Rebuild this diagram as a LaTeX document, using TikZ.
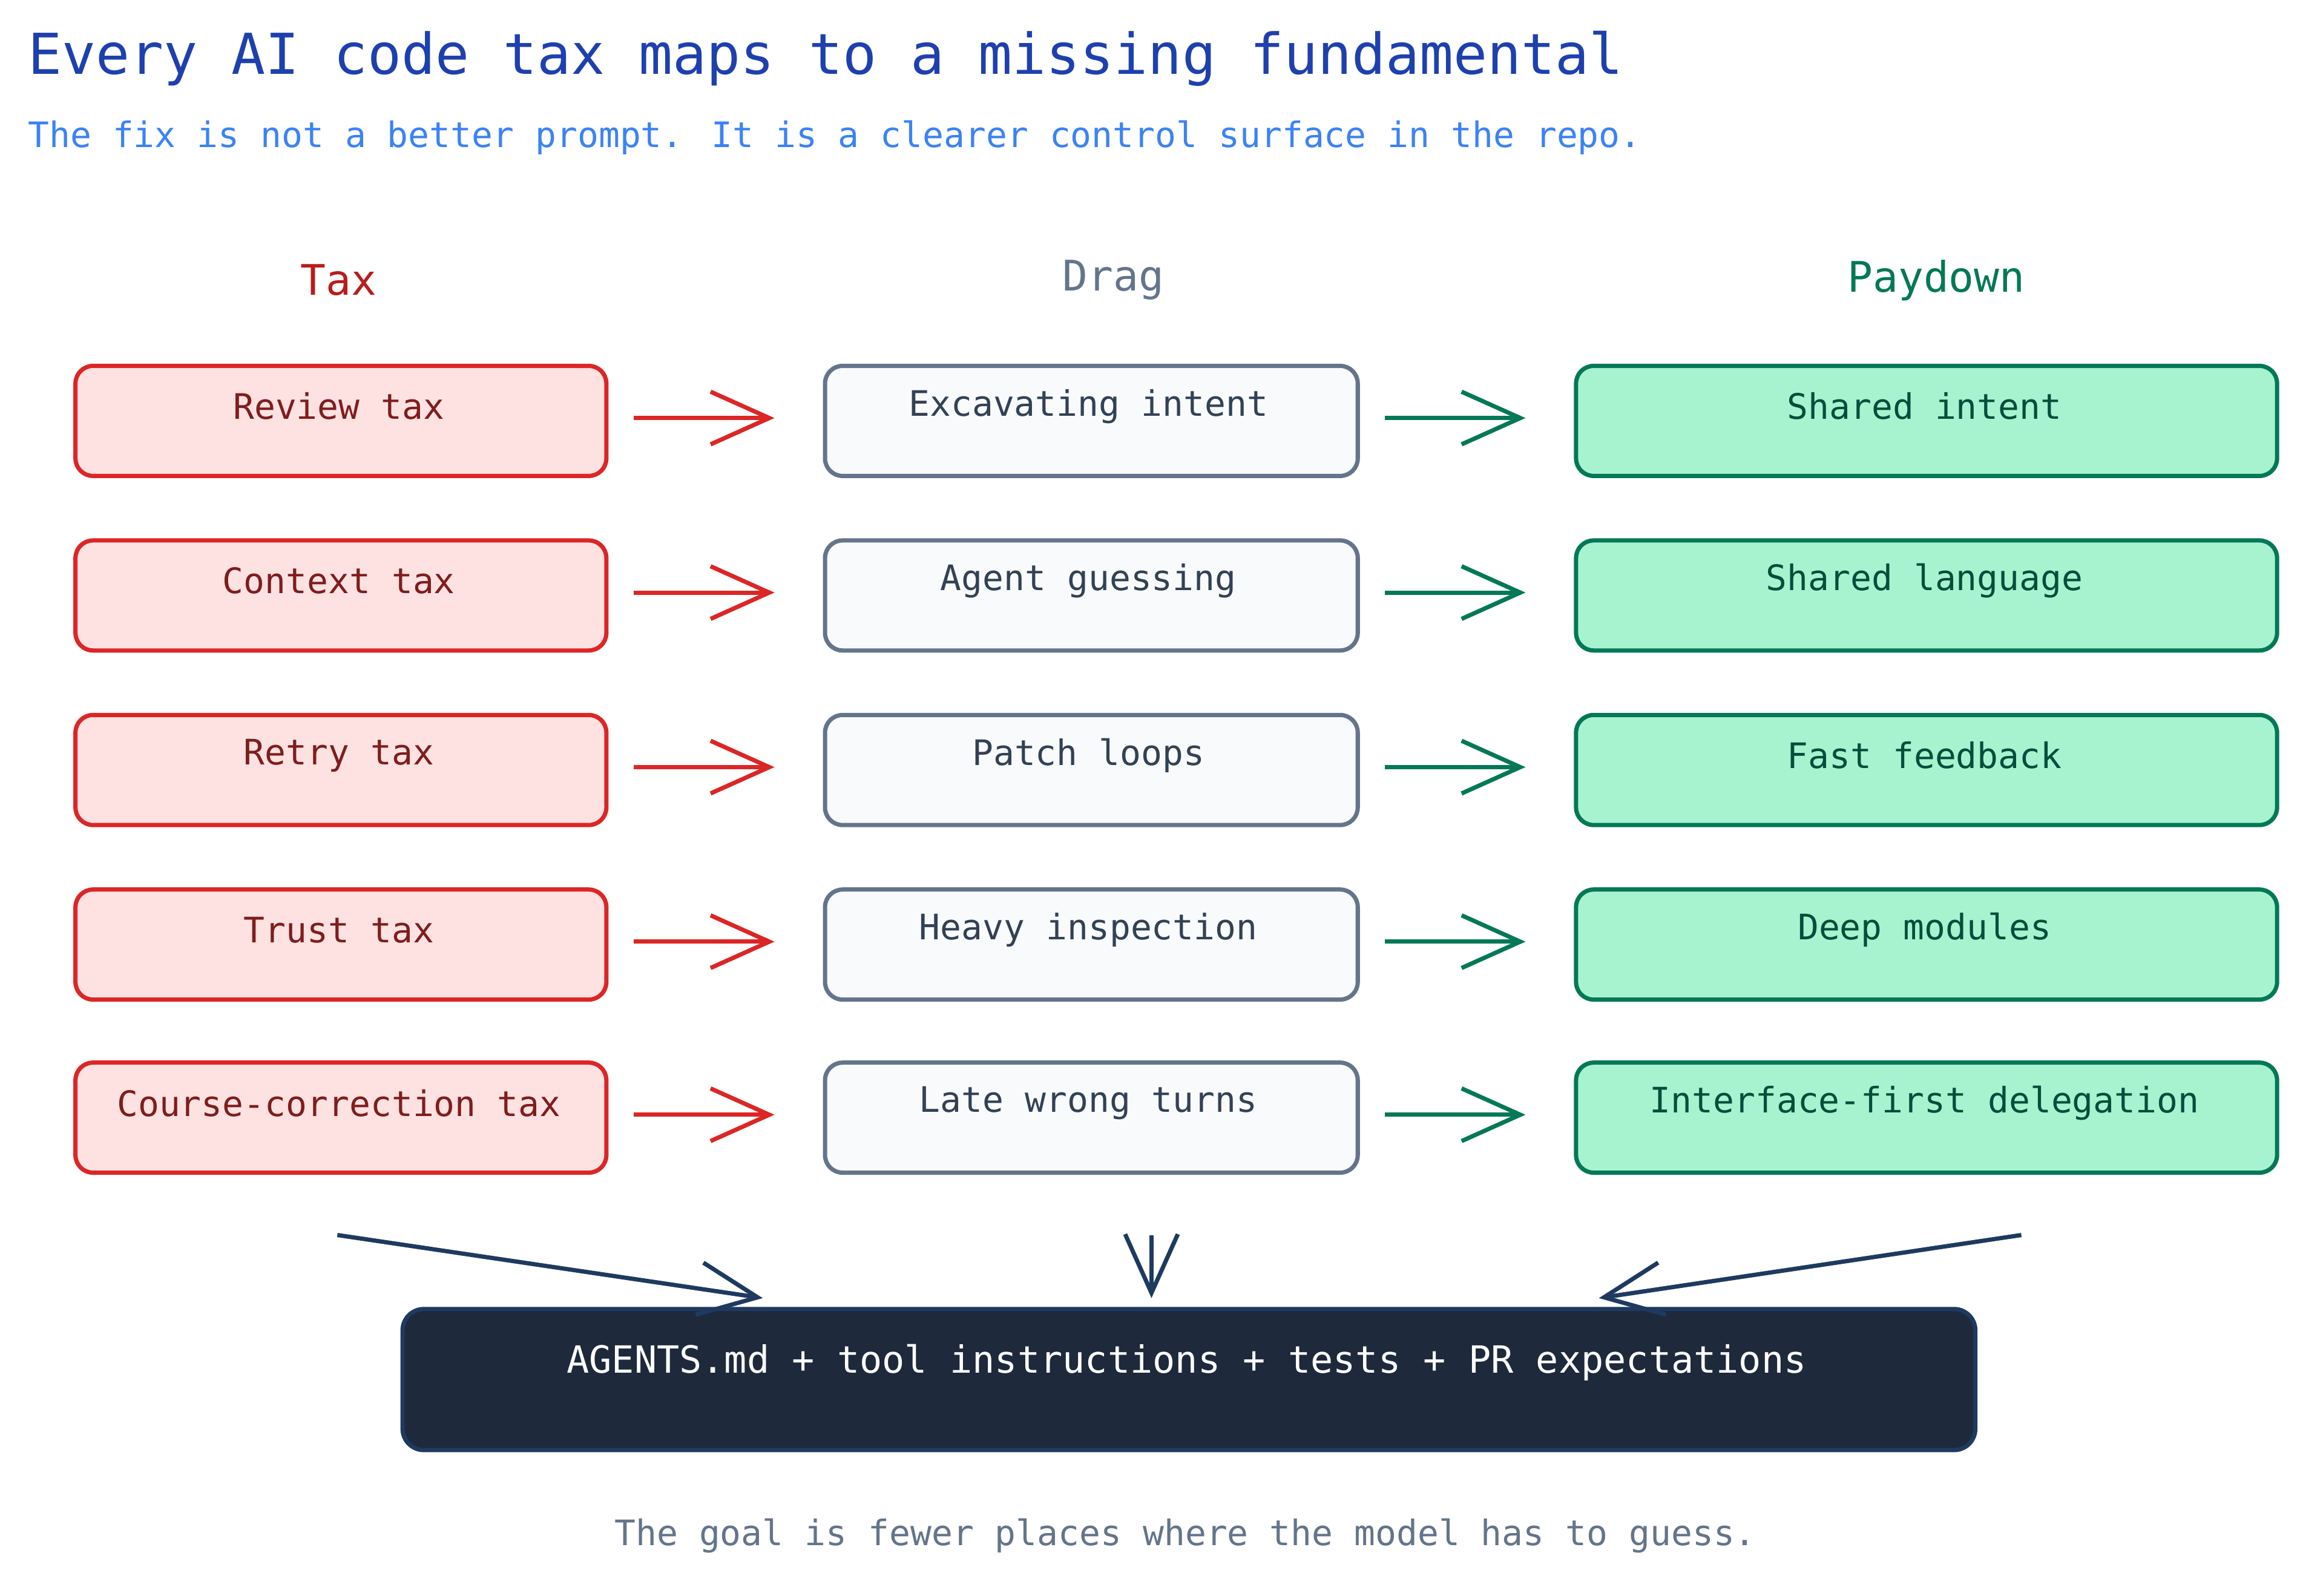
\documentclass[tikz,border=0pt]{standalone}
\usepackage{fontspec}
\setmainfont{DejaVu Sans Mono}
\usetikzlibrary{arrows.meta,calc}
\definecolor{ttl}{HTML}{1E40AF}\definecolor{sub}{HTML}{3B82F6}
\definecolor{rs}{HTML}{DC2626}\definecolor{rf}{HTML}{FEE2E2}\definecolor{rt}{HTML}{7F1D1D}\definecolor{rh}{HTML}{B91C1C}
\definecolor{gs}{HTML}{64748B}\definecolor{gf}{HTML}{F8FAFC}\definecolor{gt}{HTML}{334155}
\definecolor{es}{HTML}{047857}\definecolor{ef}{HTML}{A7F3D0}\definecolor{et}{HTML}{064E3B}
\definecolor{dk}{HTML}{1E293B}\definecolor{dl}{HTML}{1E3A5F}
\tikzset{
 box/.style={draw,line width=2pt,rounded corners=0.29cm,anchor=north west,inner sep=0pt,minimum height=1.818cm},
 tax/.style={box,draw=rs,fill=rf,minimum width=8.77cm},
 drag/.style={box,draw=gs,fill=gf,minimum width=8.8cm},
 pay/.style={box,draw=es,fill=ef,minimum width=11.58cm},
 bt/.style={font=\fontsize{16.5}{18}\selectfont,anchor=center},
 arr/.style={line width=2pt,-{Straight Barb[length=0.97cm,width=0.87cm,line width=2pt]}},
 hd/.style={font=\fontsize{19.8}{22}\selectfont,anchor=center},
}
\begin{document}
\begin{tikzpicture}[x=0.024235cm,y=-0.024235cm]
\useasboundingbox (0,0) rectangle (1568,1088);
\node[anchor=west,text=ttl,font=\fontsize{26.5}{30}\selectfont] (title) at (14,40) {Every AI code tax maps to a missing fundamental};
\node[anchor=west,text=sub,font=\fontsize{16.5}{18}\selectfont] (subt) at (14,94) {The fix is not a better prompt. It is a clearer control surface in the repo.};
\node[hd,text=rh] (h1) at (231,191) {Tax};
\node[hd,text=gs] (h2) at (759,191) {Drag};
\node[hd,text=es] (h3) at (1320,191) {Paydown};
\foreach \i/\y/\a/\b/\c in {1/248/Review tax/Excavating intent/Shared intent,
 2/367/Context tax/Agent guessing/Shared language,
 3/486/Retry tax/Patch loops/Fast feedback,
 4/605/Trust tax/Heavy inspection/Deep modules,
 5/723/Course-correction tax/Late wrong turns/Interface-first delegation}{
 \node[tax] (t\i) at (50,\y) {};
 \node[drag] (d\i) at (561,\y) {};
 \node[pay] (p\i) at (1073,\y) {};
 \node[bt,text=rt] (tt\i) at (231,\y+29) {\a};
 \node[bt,text=gt] (dt\i) at (742,\y+29) {\b};
 \node[bt,text=et] (pt\i) at (1312,\y+29) {\c};
 \coordinate (a\i) at (432,\y+37); \coordinate (b\i) at (528,\y+37);
 \coordinate (c\i) at (944,\y+37); \coordinate (e\i) at (1040,\y+37);
 \draw[arr,rs] (a\i) -- (b\i);
 \draw[arr,es] (c\i) -- (e\i);
}
\node[draw=dl,fill=dk,line width=2pt,rounded corners=0.35cm,anchor=north west,minimum width=25.98cm,minimum height=2.33cm] (base) at (273,891) {};
\node[text=white,font=\fontsize{17.6}{20}\selectfont] (bt) at (809,929) {AGENTS.md + tool instructions + tests + PR expectations};
\coordinate (s1) at (230,842); \coordinate (e1) at (520,885);
\coordinate (s2) at (785,842); \coordinate (e2) at (785,885);
\coordinate (s3) at (1378,842); \coordinate (e3) at (1090,885);
\draw[arr,dl,-{Straight Barb[length=0.97cm,width=0.87cm,line width=2pt]}] (s1) -- (e1);
\draw[arr,dl,-{Straight Barb[length=0.97cm,width=0.87cm,line width=2pt]}] (s2) -- (e2);
\draw[arr,dl,-{Straight Barb[length=0.97cm,width=0.87cm,line width=2pt]}] (s3) -- (e3);
\node[text=gs,font=\fontsize{16.5}{18}\selectfont] (foot) at (808,1047) {The goal is fewer places where the model has to guess.};
\end{tikzpicture}
\end{document}
